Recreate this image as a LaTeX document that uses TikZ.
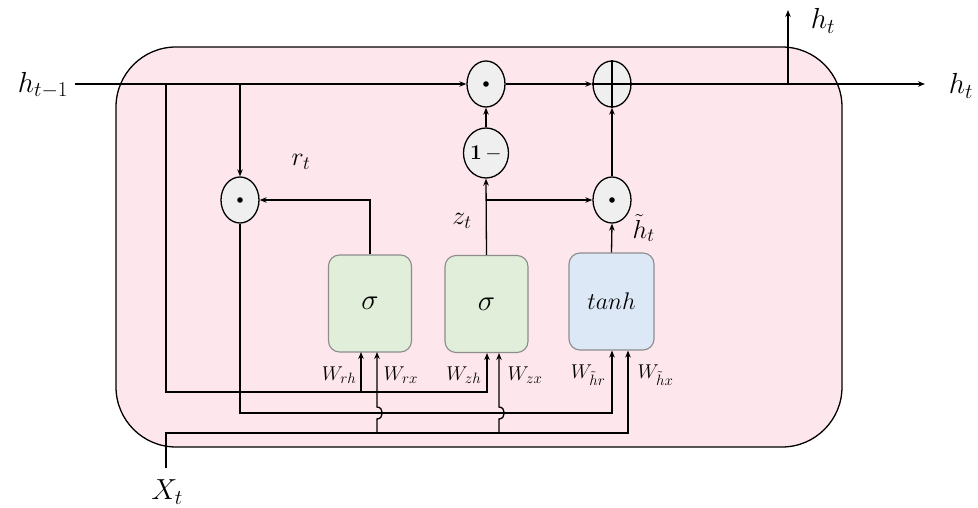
\RequirePackage{fix-cm}
\documentclass[tikz,border=0pt]{standalone}
\usetikzlibrary{arrows.meta,shapes.geometric}
\DeclareMathSizes{29}{29}{21}{15}
\DeclareMathSizes{26}{26}{19}{14}
\DeclareMathSizes{20}{20}{15}{11}
\definecolor{pinkbg}{HTML}{FDE6EC}
\definecolor{gatefill}{HTML}{E1EED9}
\definecolor{tanhfill}{HTML}{DCE8F5}
\definecolor{opfill}{HTML}{EFEFEF}
\definecolor{gateborder}{HTML}{8C8C8C}
\begin{document}
\begin{tikzpicture}[x=1pt,y=-1pt,
  line width=1.3pt,
  arr/.style={-{Stealth[length=7pt,width=5.5pt]}},
  op/.style={ellipse,draw,fill=opfill,minimum width=38pt,minimum height=46pt,inner sep=0pt},
  gate/.style={draw=gateborder,line width=1.1pt,fill=gatefill,rounded corners=11pt,minimum width=83pt,minimum height=97pt,inner sep=0pt},
  biglbl/.style={font=\fontsize{29}{32}\selectfont},
  midlbl/.style={font=\fontsize{26}{28}\selectfont},
  wlbl/.style={font=\fontsize{20}{22}\selectfont,inner sep=0pt}
]
\useasboundingbox (0,0) rectangle (978,508);
% cell background
\draw[fill=pinkbg,rounded corners=60pt] (116,47) rectangle (842,447);

% operators
\node[op] (m1) at (486,84) {};
\fill (m1.center) circle (2.8pt);
\node[op] (pl) at (612,84) {};
\draw (pl.north) -- (pl.south);
\draw (pl.west) -- (pl.east);
\node[op,minimum width=45pt,minimum height=50pt] (om) at (486,153) {\fontsize{21}{23}\selectfont\textbf{1}\,$-$};
\node[op] (m2) at (612,200) {};
\fill (m2.center) circle (2.8pt);
\node[op] (mr) at (240,200) {};
\fill (mr.center) circle (2.8pt);

% gates
\node[gate] (s1) at (370,303.5) {\fontsize{29}{32}\selectfont$\sigma$};
\node[gate] (s2) at (486.5,304) {\fontsize{29}{32}\selectfont$\sigma$};
\node[gate,fill=tanhfill,minimum width=85pt] (th) at (611.5,301.5) {\fontsize{24}{26}\selectfont$tanh$};

% labels
\node[biglbl] (lhin) at (43,85) {$h_{t-1}$};
\node[biglbl] (lhout) at (961,86) {$h_t$};
\node[biglbl] (lhup) at (823,21) {$h_t$};
\node[biglbl] (lx) at (167,492) {$X_t$};
\node[midlbl] (lr) at (301,162) {$r_t$};
\node[midlbl] (lz) at (462,221) {$z_t$};
\node[midlbl,anchor=west,inner sep=0pt] (lht) at (632,228) {$\tilde{h}_t$};
\node[wlbl,anchor=east] (lwrh) at (357,375) {$W_{rh}$};
\node[wlbl,anchor=west] (lwrx) at (383,375) {$W_{rx}$};
\node[wlbl,anchor=east] (lwzh) at (482,375) {$W_{zh}$};
\node[wlbl,anchor=west] (lwzx) at (507,375) {$W_{zx}$};
\node[wlbl,anchor=east] (lwhr) at (606,375) {$W_{\tilde{h}r}$};
\node[wlbl,anchor=west] (lwhx) at (637,375) {$W_{\tilde{h}x}$};

% coordinates
\coordinate (hstart) at (75,84);
\coordinate (j1) at (166,84);
\coordinate (j2) at (240,84);
\coordinate (hend) at (925,84);
\coordinate (jup) at (788,84);
\coordinate (hupend) at (788,10);
\coordinate (aL) at (166,392);
\coordinate (aR) at (487,392);
\coordinate (bR) at (612,413);
\coordinate (xs) at (166,468);
\coordinate (cL) at (166,433);
\coordinate (cR) at (628,433);

% top line
\draw[arr] (hstart) -- (m1.west);
\draw[arr] (j2) -- (mr.north);
\draw[arr] (om.north) -- (m1.south);
\draw[arr] (m1.east) -- (pl.west);
\draw[arr] (pl.east) -- (hend);
\draw[arr] (jup) -- (hupend);
\draw[arr] (m2.north) -- (pl.south);
\draw[arr] (th.north) -- (m2.south);
\draw[arr] (s2.north) -- (om.south);
\draw[arr] (s2.north |- m2.west) -- (m2.west);
\draw[arr] (s1.north) |- (mr.east);

% line A (h_{t-1})
\draw[arr] (j1) -- (aL) -- (aR) -- (aR |- s2.south);
\draw[arr] (361,392) -- (361,352);
% line B (r_t * h_{t-1})
\draw[arr] (mr.south) |- (bR) -- (bR |- th.south);
% line C (x_t)
\draw[arr] (xs) -- (cL) -- (cR) -- (cR |- th.south);
\draw[arr] (377,433) -- (377,419) .. controls (384,419) and (384,407) .. (377,407) -- (377,352);
\draw[arr] (499,433) -- (499,419) .. controls (506,419) and (506,407) .. (499,407) -- (499,353);
\end{tikzpicture}
\end{document}
